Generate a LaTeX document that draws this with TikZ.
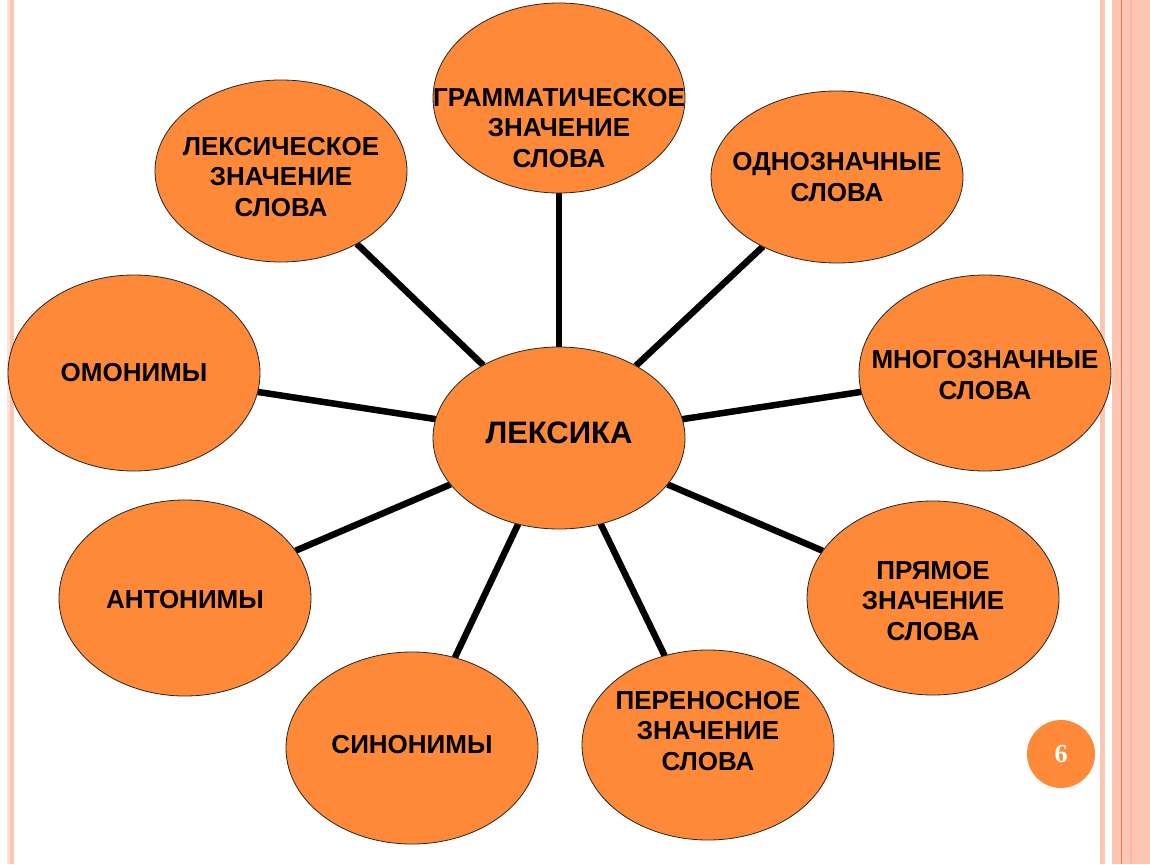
\documentclass[tikz,border=0pt]{standalone}
\usepackage{fontspec}
\setmainfont{Liberation Sans}
\newfontfamily\numfont{Liberation Serif}
\usetikzlibrary{shapes.geometric,backgrounds}
\definecolor{lexorange}{RGB}{253,137,57}
\definecolor{stripe}{RGB}{253,198,178}
\definecolor{stripelight}{RGB}{254,226,214}
\definecolor{stripedark}{RGB}{251,184,158}
\definecolor{stripeline}{RGB}{240,128,64}

\begin{document}
\begin{tikzpicture}[x=1pt,y=-1pt]
		\tikzstyle{main}=[ellipse, minimum width=252pt, minimum height=190pt, inner sep=0pt, outer sep=0pt, draw=black!85, line width=0.8pt, fill=lexorange]
		\tikzstyle{txt}=[font=\fontsize{26}{30.5}\selectfont\bfseries, align=center, inner sep=0pt]
		\tikzstyle{connect}=[line width=6.5pt, draw=black]
		\useasboundingbox (0,0) rectangle (1150,864);
		% slide borders
		\fill[stripelight] (7,0) rectangle (9.5,864);
		\fill[stripe] (9.5,0) rectangle (14,864);
		\fill[stripe] (1100,0) rectangle (1105,864);
		\fill[stripe] (1112,0) rectangle (1150,864);
		\fill[stripedark] (1130,0) rectangle (1132,864);
		\draw[stripeline, line width=1pt] (1121,0) -- (1121,864);
		% ellipses
		\node[main, minimum height=182pt] (lex) at (559,438) [label={[txt, font=\fontsize{31}{36}\selectfont\bfseries, yshift=5pt]center:ЛЕКСИКА}] {};
		\node[main] (gram) at (559,98) [label={[txt, yshift=-30pt]center:ГРАММАТИЧЕСКОЕ\\ЗНАЧЕНИЕ\\СЛОВА}] {};
		\node[main, minimum height=182pt] (lexz) at (281,171) [label={[txt, yshift=-6pt]center:ЛЕКСИЧЕСКОЕ\\ЗНАЧЕНИЕ\\СЛОВА}] {};
		\node[main, minimum height=172pt] (odno) at (837,177) [label={[txt]center:ОДНОЗНАЧНЫЕ\\СЛОВА}] {};
		\node[main, minimum height=196pt] (omon) at (134,373) [label={[txt]center:ОМОНИМЫ}] {};
		\node[main, minimum height=196pt] (mnogo) at (985,373) [label={[txt, yshift=-2pt]center:МНОГОЗНАЧНЫЕ\\СЛОВА}] {};
		\node[main, minimum height=196pt] (anton) at (185,598) [label={[txt, yshift=-2pt]center:АНТОНИМЫ}] {};
		\node[main, minimum height=194pt] (pryam) at (933,598) [label={[txt, yshift=-3pt]center:ПРЯМОЕ\\ЗНАЧЕНИЕ\\СЛОВА}] {};
		\node[main, minimum height=192pt] (sinon) at (412,748) [label={[txt, yshift=3pt]center:СИНОНИМЫ}] {};
		\node[main] (peren) at (708,745) [label={[txt, yshift=14pt]center:ПЕРЕНОСНОЕ\\ЗНАЧЕНИЕ\\СЛОВА}] {};
		\begin{scope}[on background layer]
		\path (lex) edge [connect] (gram)
		(lex) edge [connect] (lexz)
		(lex) edge [connect] (odno)
		(lex) edge [connect] (omon)
		(lex) edge [connect] (mnogo)
		(lex) edge [connect] (anton)
		(lex) edge [connect] (pryam)
		(lex) edge [connect] (sinon)
		(lex) edge [connect] (peren);
		\end{scope}
		% page number
		\node[circle, fill=lexorange, minimum size=68pt, inner sep=0pt, text=white, font=\numfont\bfseries\fontsize{26}{26}\selectfont] (page) at (1061,754) {6};
\end{tikzpicture}
\end{document}
